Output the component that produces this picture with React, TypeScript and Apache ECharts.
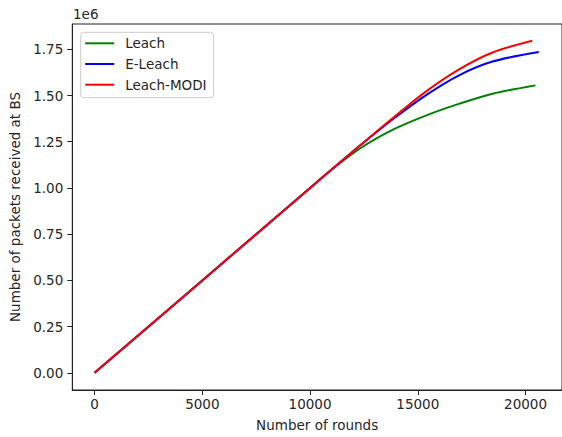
import React, { useEffect, useRef } from "react";
import * as echarts from "echarts";

// Data (rounds vs packets received at BS)
const leachRounds = [0, 5000, 10000, 10805, 12337, 13870, 15402, 16935, 18467, 20460];
const leachPackets = [0, 500000, 1000000, 1081000, 1215000, 1317000, 1393000, 1456000, 1510000, 1555000];

const eLeachRounds = [0, 5000, 10000, 11000, 12337, 13870, 15402, 16935, 18467, 20613];
const eLeachPackets = [0, 500000, 1000000, 1100000, 1231000, 1374000, 1504000, 1611000, 1684000, 1735000];

const modiRounds = [0, 5000, 10000, 11000, 12337, 13870, 15402, 16935, 18467, 20307];
const modiPackets = [0, 500000, 1000000, 1100000, 1232000, 1381000, 1524000, 1643000, 1733000, 1796000];

const xTicks = [0, 5000, 10000, 15000, 20000];
const yTicks = [0, 250000, 500000, 750000, 1000000, 1250000, 1500000, 1750000];

const seriesNames = ["Leach", "E-Leach", "Leach-MODI"];
const seriesColors = ["#008000", "#0000ff", "#ff0000"];

const zip = (xs: number[], ys: number[]) => xs.map((x, i) => [x, ys[i]]);

export default function App() {
  const ref = useRef<HTMLDivElement>(null);
  useEffect(() => {
    if (!ref.current) return;
    const chart = echarts.init(ref.current, null, { renderer: "svg" });
    const font = "DejaVu Sans";
    const fs = 13.5;
    const axisColor = "#222";
    const datasets = [
      zip(leachRounds, leachPackets),
      zip(eLeachRounds, eLeachPackets),
      zip(modiRounds, modiPackets),
    ];
    chart.setOption({
      animation: false,
      backgroundColor: "#ffffff",
      textStyle: { fontFamily: font },
      grid: {
        left: 72.3,
        top: 24,
        width: 495.5,
        height: 368.3,
        show: true,
        borderColor: axisColor,
        borderWidth: 1,
        backgroundColor: "transparent",
      },
      legend: {
        orient: "vertical",
        left: 80.7,
        top: 32.3,
        data: seriesNames.map((n) => ({ name: n, icon: "rect" })),
        itemWidth: 29,
        itemHeight: 2,
        itemGap: 4.7,
        padding: [3, 7, 5, 4.5],
        borderColor: "#cccccc",
        borderWidth: 1,
        borderRadius: 3,
        backgroundColor: "rgba(255,255,255,0.85)",
        textStyle: {
          fontFamily: font,
          fontSize: fs,
          color: "#262626",
          lineHeight: 16,
          padding: [0, 0, 0, 6],
        },
      },
      graphic: [
        {
          type: "text",
          left: 73,
          top: 7,
          style: { text: "1e6", fontFamily: font, fontSize: fs, fill: "#262626" },
        },
      ],
      xAxis: {
        type: "value",
        min: -1033,
        max: 21691,
        name: "Number of rounds",
        nameLocation: "middle",
        nameGap: 28,
        nameTextStyle: { fontFamily: font, fontSize: fs, color: "#262626" },
        splitLine: { show: false },
        axisLine: { show: true, onZero: false, lineStyle: { color: axisColor, width: 1 } },
        axisTick: {
          show: true,
          length: 5,
          inside: false,
          customValues: xTicks,
          lineStyle: { color: axisColor },
        },
        axisLabel: {
          customValues: xTicks,
          margin: 7,
          fontFamily: font,
          fontSize: fs,
          color: "#262626",
          formatter: (v: number) => String(v),
        },
      },
      yAxis: {
        type: "value",
        min: -93000,
        max: 1887000,
        name: "Number of packets received at BS",
        nameLocation: "middle",
        nameGap: 46,
        nameTextStyle: { fontFamily: font, fontSize: fs, color: "#262626" },
        splitLine: { show: false },
        axisLine: { show: true, onZero: false, lineStyle: { color: axisColor, width: 1 } },
        axisTick: {
          show: true,
          length: 5,
          inside: false,
          customValues: yTicks,
          lineStyle: { color: axisColor },
        },
        axisLabel: {
          customValues: yTicks,
          margin: 9,
          fontFamily: font,
          fontSize: fs,
          color: "#262626",
          formatter: (v: number) => (v / 1e6).toFixed(2),
        },
      },
      series: seriesNames.map((name, i) => ({
        name,
        type: "line",
        data: datasets[i],
        smooth: 0.3,
        showSymbol: false,
        symbol: "none",
        color: seriesColors[i],
        lineStyle: { color: seriesColors[i], width: 2 },
      })),
    });
    return () => chart.dispose();
  }, []);
  return (
    <div
      ref={ref}
      style={{ position: "fixed", left: 0, top: 0, width: 562, height: 437 }}
    />
  );
}
